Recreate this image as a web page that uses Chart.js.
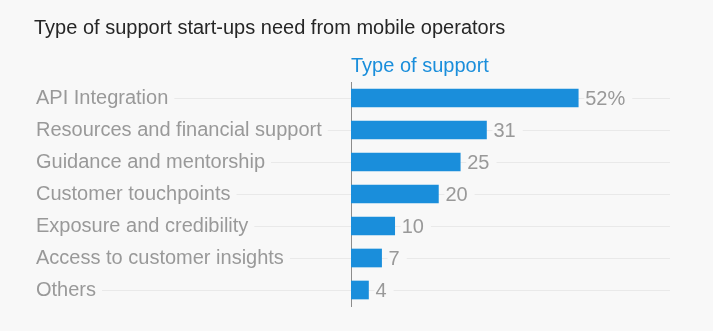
<!DOCTYPE html>
<html>
<head>
<meta charset="utf-8">
<script src="https://cdn.jsdelivr.net/npm/chart.js@4"></script>
<style>
  html, body { margin: 0; padding: 0; background: #f8f8f8; }
  #wrap { width: 713px; height: 331px; }
</style>
</head>
<body>
<div id="wrap"><canvas id="supportChart"></canvas></div>
<script>
// start-up survey: share of respondents by type of support wanted
const supportTypes = [
  'API Integration',
  'Resources and financial support',
  'Guidance and mentorship',
  'Customer touchpoints',
  'Exposure and credibility',
  'Access to customer insights',
  'Others'
];
const shares = [52, 31, 25, 20, 10, 7, 4];
const shareLabels = ['52%', '31', '25', '20', '10', '7', '4'];

const BG = '#f8f8f8';
const BLUE = '#1a8edb';
const GREY = '#999999';
const FONT = '"Liberation Sans", Arial, sans-serif';

// background, heading and the thin row rules that run behind the labels
const rowRules = {
  id: 'rowRules',
  beforeDraw(chart) {
    const ctx = chart.ctx;
    const yScale = chart.scales.y;
    ctx.save();
    ctx.fillStyle = BG;
    ctx.fillRect(0, 0, chart.width, chart.height);

    ctx.fillStyle = '#262626';
    ctx.font = '20px ' + FONT;
    ctx.textBaseline = 'middle';
    ctx.fillText('Type of support start-ups need from mobile operators', 34, 28);

    ctx.fillStyle = BLUE;
    ctx.font = '20px ' + FONT;
    ctx.fillText('Type of support', chart.chartArea.left, 66);

    ctx.strokeStyle = '#e9e9e9';
    ctx.lineWidth = 1;
    supportTypes.forEach((t, i) => {
      const y = Math.round(yScale.getPixelForValue(i)) + 0.5;
      ctx.beginPath();
      ctx.moveTo(36, y);
      ctx.lineTo(chart.chartArea.right, y);
      ctx.stroke();
    });
    ctx.restore();
  }
};

// value text at the end of each bar, masking the rule behind it
const barValues = {
  id: 'barValues',
  afterDatasetsDraw(chart) {
    const ctx = chart.ctx;
    const meta = chart.getDatasetMeta(0);
    ctx.save();
    ctx.font = '20px ' + FONT;
    ctx.textBaseline = 'middle';
    meta.data.forEach((bar, i) => {
      const x = bar.x + 7;
      const w = ctx.measureText(shareLabels[i]).width;
      ctx.fillStyle = BG;
      ctx.fillRect(x - 1, bar.y - 8, w + 8, 16);
      ctx.fillStyle = GREY;
      ctx.fillText(shareLabels[i], x, bar.y + 1);
    });
    ctx.restore();
  }
};

new Chart(document.getElementById('supportChart'), {
  type: 'bar',
  data: {
    labels: supportTypes,
    datasets: [{
      data: shares,
      backgroundColor: BLUE,
      barThickness: 18,
      borderWidth: 0
    }]
  },
  options: {
    indexAxis: 'y',
    responsive: true,
    maintainAspectRatio: false,
    animation: false,
    layout: { padding: { left: 36, right: 43, top: 82, bottom: 25 } },
    plugins: {
      legend: { display: false },
      tooltip: { enabled: false }
    },
    scales: {
      x: {
        min: 0,
        max: 73,
        display: false
      },
      y: {
        afterFit(scale) { scale.width = 315; },
        grid: { display: false },
        border: { display: true, color: '#8c8c8c', width: 1 },
        ticks: {
          crossAlign: 'far',
          color: GREY,
          font: { family: FONT, size: 20 },
          showLabelBackdrop: true,
          backdropColor: BG,
          backdropPadding: { left: 0, right: 6, top: 1, bottom: 1 }
        }
      }
    }
  },
  plugins: [rowRules, barValues]
});
</script>
</body>
</html>
